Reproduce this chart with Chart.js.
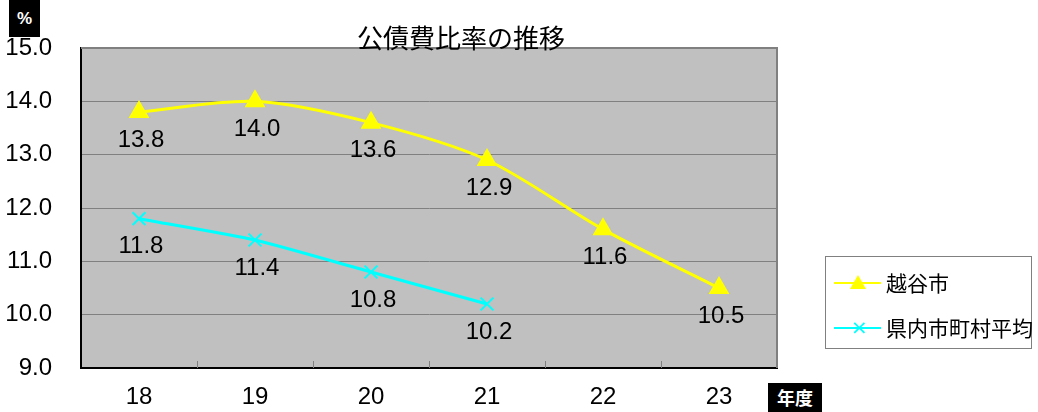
<!DOCTYPE html>
<html lang="ja">
<head>
<meta charset="utf-8">
<script src="https://cdn.jsdelivr.net/npm/chart.js@4/dist/chart.umd.min.js"></script>
<style>
  body { margin: 0; background: #fff; }
  #wrap { position: relative; width: 1038px; height: 412px; font-family: "Noto Sans CJK JP", sans-serif; }
  #title { position: absolute; left: 357px; top: 18px; font-size: 26px; color: #000; white-space: nowrap; }
  .tag { position: absolute; background: #000; color: #fff; font-weight: bold; text-align: center; }
  #unitY { left: 9px; top: 0; width: 31px; height: 37px; line-height: 37px; font-size: 17px; font-family: "Liberation Sans", sans-serif; }
  #unitX { left: 768px; top: 383px; width: 54px; height: 29px; line-height: 29px; font-size: 18px; }
  #legend { position: absolute; left: 825px; top: 256px; width: 205px; height: 91px; border: 1px solid #808080; background: #fff; }
  .item { position: absolute; left: 8px; height: 24px; font-size: 21px; line-height: 24px; white-space: nowrap; }
  .item .line { position: absolute; left: 0; top: 11px; width: 47px; height: 2px; }
  .item .mk { position: absolute; left: 16px; }
  .item span.txt { position: absolute; left: 52px; top: -1px; }
</style>
</head>
<body>
<div id="wrap">
  <canvas id="chart" width="1038" height="412"></canvas>
  <div id="title">公債費比率の推移</div>
  <div class="tag" id="unitY">%</div>
  <div class="tag" id="unitX">年度</div>
  <div id="legend">
    <div class="item" style="top:14px">
      <div class="line" style="background:#ffff00"></div>
      <div class="mk" style="top:4px;width:0;height:0;border-left:8px solid transparent;border-right:8px solid transparent;border-bottom:14px solid #ffff00"></div>
      <span class="txt">越谷市</span>
    </div>
    <div class="item" style="top:59px">
      <div class="line" style="background:#00ffff"></div>
      <div class="mk" style="top:-1px;left:17px;color:#00ffff;font-size:20px;font-family:'DejaVu Sans'">×</div>
      <span class="txt">県内市町村平均</span>
    </div>
  </div>
</div>
<script>
// --- データ ---
const years = ['18', '19', '20', '21', '22', '23'];
const koshigaya = [13.8, 14.0, 13.6, 12.9, 11.6, 10.5];
const prefAverage = [11.8, 11.4, 10.8, 10.2, null, null];

const numFont = { family: 'Liberation Sans', size: 24 };

// 背景（グレーのプロットエリア）と枠線
const plotArea = {
    id: 'plotArea',
    beforeDraw(chart) {
        const { ctx, chartArea: a } = chart;
        ctx.save();
        ctx.fillStyle = '#c0c0c0';
        ctx.fillRect(a.left, a.top, a.right - a.left, a.bottom - a.top);
        ctx.restore();
    },
    beforeDatasetsDraw(chart) {
        const { ctx, chartArea: a, scales } = chart;
        ctx.save();
        ctx.strokeStyle = '#808080';
        ctx.lineWidth = 2;
        ctx.beginPath();
        ctx.moveTo(a.left, a.top);
        ctx.lineTo(a.right, a.top);
        ctx.lineTo(a.right, a.bottom);
        ctx.stroke();
        // 目盛り（内向き）
        ctx.lineWidth = 1;
        const x = scales.x;
        for (let i = 1; i < years.length; i++) {
            const px = (x.getPixelForValue(i - 1) + x.getPixelForValue(i)) / 2;
            ctx.beginPath();
            ctx.moveTo(px + 0.5, a.bottom);
            ctx.lineTo(px + 0.5, a.bottom - 7);
            ctx.stroke();
        }
        ctx.restore();
    }
};

// データラベル（点の下に表示）
const valueLabels = {
    id: 'valueLabels',
    afterDatasetsDraw(chart) {
        const ctx = chart.ctx;
        ctx.save();
        ctx.font = `${numFont.size}px ${numFont.family}`;
        ctx.fillStyle = '#000';
        ctx.textAlign = 'center';
        ctx.textBaseline = 'middle';
        chart.data.datasets.forEach((ds, di) => {
            chart.getDatasetMeta(di).data.forEach((pt, i) => {
                const v = ds.data[i];
                if (v == null) return;
                ctx.fillText(v.toFixed(1), pt.x + 2, pt.y + 28);
            });
        });
        ctx.restore();
    }
};

new Chart(document.getElementById('chart'), {
    type: 'line',
    data: {
        labels: years,
        datasets: [
            {
                label: '越谷市',
                data: koshigaya,
                borderColor: '#ffff00',
                backgroundColor: '#ffff00',
                borderWidth: 3,
                pointStyle: 'triangle',
                pointRadius: 9,
                pointHoverRadius: 9,
                tension: 0.3
            },
            {
                label: '県内市町村平均',
                data: prefAverage,
                borderColor: '#00ffff',
                backgroundColor: '#00ffff',
                borderWidth: 3,
                pointStyle: 'cross',
                pointRotation: 45,
                pointRadius: 9,
                pointBorderWidth: 2,
                pointHoverRadius: 9,
                tension: 0.2
            }
        ]
    },
    options: {
        responsive: false,
        animation: false,
        devicePixelRatio: 1,
        layout: { padding: { left: 0, top: 48, right: 261, bottom: 0 } },
        plugins: {
            legend: { display: false },
            title: { display: false },
            tooltip: { enabled: false }
        },
        scales: {
            x: {
                offset: true,
                afterFit: s => { s.height = 44; },
                grid: { display: false },
                border: { display: true, color: '#000', width: 2 },
                ticks: { color: '#000', font: numFont, padding: 7, maxRotation: 0 }
            },
            y: {
                min: 9,
                max: 15,
                afterFit: s => { s.width = 81; },
                grid: { color: '#808080', lineWidth: 1, drawTicks: false },
                border: { display: true, color: '#000', width: 2 },
                ticks: {
                    stepSize: 1,
                    color: '#000',
                    font: numFont,
                    padding: 29,
                    callback: v => v.toFixed(1)
                }
            }
        }
    },
    plugins: [plotArea, valueLabels]
});
</script>
</body>
</html>
